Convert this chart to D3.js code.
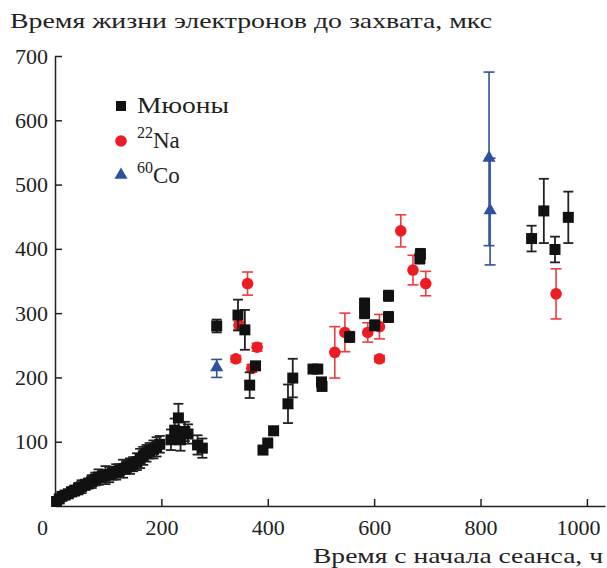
<!DOCTYPE html>
<html>
<head>
<meta charset="utf-8">
<script src="https://cdn.jsdelivr.net/npm/d3@7"></script>
<style>
  body { margin: 0; background: #fff; }
  svg { display: block; }
  text { font-family: "Liberation Serif", "Times New Roman", "DejaVu Serif", "Noto Serif", serif; fill: #222; }
</style>
</head>
<body>
<div id="chart"></div>
<script>
// muons (black squares): time, lifetime, error
const muT = [3, 8, 13, 19, 25, 31, 37, 44, 50, 57, 63, 69, 76, 82, 89, 95, 102, 108, 115, 121,
             128, 134, 141, 147, 154, 160, 166, 172, 178, 185, 191, 197, 218, 225, 232, 236, 244, 250, 268, 277,
             304, 344, 357, 366, 377, 391, 400, 411, 438, 447, 485, 494, 501, 502,
             554, 582, 582, 601, 627, 627, 686, 687, 896, 919, 940, 965];
const muV = [7, 11, 15, 17, 19, 22, 24, 27, 30, 33, 35, 38, 42, 45, 46, 48, 49, 51, 53, 55,
             58, 60, 62, 65, 69, 74, 78, 82, 86, 88, 92, 96, 103, 118, 137, 103, 116, 112, 95, 90,
             280, 297, 274, 188, 218, 87, 98, 117, 159, 199, 213, 213, 193, 186,
             263, 315, 300, 281, 327, 294, 385, 392, 416, 459, 399, 449];
const muE = [4, 5, 5, 6, 6, 7, 8, 9, 10, 8, 8, 10, 10, 12, 9, 14, 12, 10, 12, 10,
             14, 10, 12, 11, 13, 15, 14, 13, 12, 14, 15, 13, 16, 18, 22, 17, 15, 15, 15, 15,
             10, 24, 31, 20, 6, 5, 5, 5, 30, 30, 6, 6, 6, 6,
             8, 8, 8, 8, 8, 8, 8, 8, 20, 50, 20, 40];

// 22Na (red circles)
const naT = [340, 346, 362, 370, 380, 526, 545, 588, 610, 610, 650, 673, 697, 942];
const naV = [229, 281, 346, 214, 247, 239, 270, 270, 279, 229, 428, 367, 346, 330];
const naE = [5, 6, 18, 6, 6, 40, 30, 15, 19, 5, 25, 23, 19, 39];

// 60Co (blue triangles)
const coT = [304, 816, 818];
const coV = [214, 540, 458];
const coE = [14, 135, 83];

const yTicks = [100, 200, 300, 400, 500, 600, 700];
const xTicks = [0, 200, 400, 600, 800, 1000];

const W = 607, H = 568;
const svg = d3.select("#chart").append("svg")
  .attr("width", W)
  .attr("height", H);

const x = d3.scaleLinear().domain([0, 1034]).range([55, 605]);
const y = d3.scaleLinear().domain([0, 700]).range([506, 56]);

// axes, ticks inward
const gx = svg.append("g")
  .attr("transform", "translate(0," + y(0) + ")")
  .call(d3.axisBottom(x).tickValues(xTicks).tickFormat(d3.format("d"))
    .tickSize(-7).tickSizeOuter(0).tickPadding(13));
const gy = svg.append("g")
  .attr("transform", "translate(" + x(0) + ",0)")
  .call(d3.axisLeft(y).tickValues(yTicks).tickFormat(d3.format("d"))
    .tickSize(-7).tickSizeOuter(0).tickPadding(7));

[gx, gy].forEach(g => {
  g.attr("font-family", null);
  g.select(".domain").attr("stroke", "#222").attr("stroke-width", 1.5);
  g.selectAll(".tick line").attr("stroke", "#222").attr("stroke-width", 1.5);
  g.selectAll(".tick text")
    .style("font-size", "22px")
    .attr("fill", "#222");
});
// zero label sits left of the axis, no tick there
gx.selectAll(".tick").filter(d => d === 0).select("line").remove();
gx.selectAll(".tick").filter(d => d === 0).select("text").attr("x", -13);
// 1000 label kept inside the right edge
gx.selectAll(".tick").filter(d => d === 1000).select("text").attr("x", -9);

// axis titles
svg.append("text")
  .attr("x", 10).attr("y", 28)
  .style("font-size", "22px")
  .attr("textLength", 482).attr("lengthAdjust", "spacingAndGlyphs")
  .text("Время жизни электронов до захвата, мкс");
svg.append("text")
  .attr("x", 313).attr("y", 563)
  .style("font-size", "22px")
  .attr("textLength", 290).attr("lengthAdjust", "spacingAndGlyphs")
  .text("Время с начала сеанса, ч");

function errorBars(T, V, E, color, width, capW) {
  const g = svg.append("g").attr("stroke", color).attr("stroke-width", width);
  const idx = d3.range(T.length);
  g.selectAll("line.v").data(idx).enter().append("line")
    .attr("x1", i => x(T[i])).attr("x2", i => x(T[i]))
    .attr("y1", i => y(V[i] - E[i])).attr("y2", i => y(V[i] + E[i]));
  g.selectAll("line.t").data(idx).enter().append("line")
    .attr("x1", i => x(T[i]) - capW / 2).attr("x2", i => x(T[i]) + capW / 2)
    .attr("y1", i => y(V[i] + E[i])).attr("y2", i => y(V[i] + E[i]));
  g.selectAll("line.b").data(idx).enter().append("line")
    .attr("x1", i => x(T[i]) - capW / 2).attr("x2", i => x(T[i]) + capW / 2)
    .attr("y1", i => y(V[i] - E[i])).attr("y2", i => y(V[i] - E[i]));
}

const RED = "#ec1c24", BLUE = "#2f4f9f", BLACK = "#111";

// 22Na
errorBars(naT, naV, naE, "#ee3a3f", 1.6, 11);
svg.append("g").selectAll("circle").data(d3.range(naT.length)).enter().append("circle")
  .attr("cx", i => x(naT[i])).attr("cy", i => y(naV[i]))
  .attr("r", 5.8).attr("fill", RED);

// muons
errorBars(muT, muV, muE, "#222", 1.8, 10);
svg.append("g").selectAll("rect").data(d3.range(muT.length)).enter().append("rect")
  .attr("x", i => x(muT[i]) - 5.5).attr("y", i => y(muV[i]) - 5.5)
  .attr("width", 11).attr("height", 11).attr("fill", BLACK);

// 60Co
errorBars(coT, coV, coE, BLUE, 1.6, 11);
const tri = d3.symbol().type(d3.symbolTriangle).size(75);
svg.append("g").selectAll("path").data(d3.range(coT.length)).enter().append("path")
  .attr("transform", i => "translate(" + x(coT[i]) + "," + (y(coV[i]) - 1) + ")")
  .attr("d", tri).attr("fill", BLUE);

// legend
const lg = svg.append("g");
lg.append("rect").attr("x", 116).attr("y", 101).attr("width", 10).attr("height", 10).attr("fill", BLACK);
lg.append("text").attr("x", 137).attr("y", 113).style("font-size", "23px")
  .attr("textLength", 92).attr("lengthAdjust", "spacingAndGlyphs").text("Мюоны");
lg.append("circle").attr("cx", 121).attr("cy", 141).attr("r", 5.8).attr("fill", RED);
const t2 = lg.append("text").attr("x", 137).attr("y", 148).style("font-size", "23px");
t2.append("tspan").attr("dy", -10).style("font-size", "16px").text("22");
t2.append("tspan").attr("dy", 10).text("Na");
lg.append("path").attr("transform", "translate(121,175)").attr("d", tri).attr("fill", BLUE);
const t3 = lg.append("text").attr("x", 137).attr("y", 183).style("font-size", "23px");
t3.append("tspan").attr("dy", -10).style("font-size", "16px").text("60");
t3.append("tspan").attr("dy", 10).text("Co");
</script>
</body>
</html>
